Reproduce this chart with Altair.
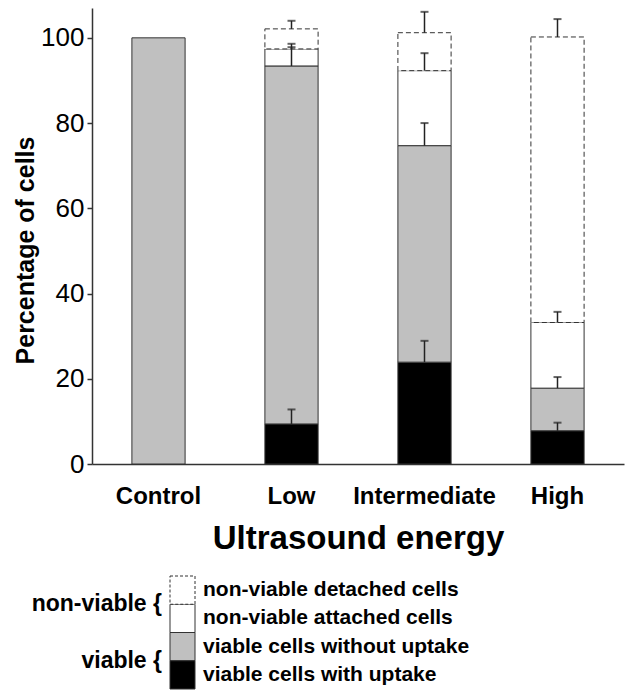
import altair as alt
import pandas as pd

FONT = "Liberation Sans"

categories = ["Control", "Low", "Intermediate", "High"]
segments = ["viable cells with uptake", "viable cells without uptake",
            "non-viable attached cells", "non-viable detached cells"]
seg_colors = ["#000000", "#c0c0c0", "#ffffff", "#ffffff"]

# cumulative top of each stacked segment, and top of its error bar
uptake_top = [0, 9.4, 23.9, 7.8]
uptake_err = [None, 12.8, 28.9, 9.7]
without_top = [100, 93.4, 74.7, 17.8]
without_err = [None, 97.8, 80.0, 20.4]
attached_top = [100, 97.4, 92.3, 33.2]
attached_err = [None, 98.6, 96.4, 35.7]
detached_top = [100, 102.1, 101.2, 100.2]
detached_err = [None, 104.0, 106.1, 104.4]

y_ticks = [0, 20, 40, 60, 80, 100]

legend_order = ["non-viable detached cells", "non-viable attached cells",
                "viable cells without uptake", "viable cells with uptake"]
group_labels = ["non-viable {", "viable {"]
group_members = [["non-viable detached cells", "non-viable attached cells"],
                 ["viable cells without uptake", "viable cells with uptake"]]

tops = [uptake_top, without_top, attached_top, detached_top]
errs = [uptake_err, without_err, attached_err, detached_err]

bar_rows, err_rows = [], []
for i, cat in enumerate(categories):
    prev = 0
    for s, seg in enumerate(segments):
        top = tops[s][i]
        if top > prev:
            bar_rows.append({"category": cat, "segment": seg, "y0": prev, "y1": top})
            prev = top
        if errs[s][i] is not None:
            err_rows.append({"category": cat, "segment": seg, "lo": top, "hi": errs[s][i]})

bars_df = pd.DataFrame(bar_rows)
err_df = pd.DataFrame(err_rows)

xenc = alt.X("category:N", sort=categories,
             scale=alt.Scale(paddingInner=0.6, paddingOuter=0.3),
             axis=alt.Axis(labelAngle=0, ticks=False, labelFontSize=24, labelFontWeight="bold",
                           labelFont=FONT, labelColor="black", labelPadding=20,
                           domainColor="#333", domainWidth=1.5,
                           titleFontSize=33, titleFontWeight="bold", titleFont=FONT,
                           titleColor="black", titlePadding=14),
             title="Ultrasound energy")
yscale = alt.Scale(domain=[0, 107], nice=False, zero=True)
yenc = alt.Y("y0:Q", scale=yscale,
             axis=alt.Axis(values=y_ticks, grid=False, tickSize=5, labelPadding=3,
                           labelFontSize=26, labelFont=FONT, labelColor="black",
                           domainColor="#333", domainWidth=1.5, tickColor="#333", tickWidth=1.5,
                           titleFontSize=25, titleFontWeight="bold", titleFont=FONT,
                           titleColor="black", titlePadding=2, titleY=242),
             title="Percentage of cells")
fill = alt.Fill("segment:N", scale=alt.Scale(domain=segments, range=seg_colors), legend=None)

solid = alt.Chart(bars_df).transform_filter(
    alt.datum.segment != "non-viable detached cells"
).mark_bar(stroke="#333", strokeWidth=1).encode(x=xenc, y=yenc, y2="y1:Q", fill=fill)

dashed = alt.Chart(bars_df).transform_filter(
    alt.datum.segment == "non-viable detached cells"
).mark_bar(fill="white", stroke="#333", strokeWidth=1, strokeDash=[5, 3]).encode(
    x=alt.X("category:N", sort=categories), y="y0:Q", y2="y1:Q")

err_rule = alt.Chart(err_df).mark_rule(color="#222", strokeWidth=1.5).encode(
    x=alt.X("category:N", sort=categories), y="lo:Q", y2="hi:Q")
err_cap = alt.Chart(err_df).mark_tick(color="#222", thickness=2, size=8).encode(
    x=alt.X("category:N", sort=categories), y="hi:Q")

main = alt.layer(solid, dashed, err_rule, err_cap).properties(width=532, height=456)

# legend block
leg_df = pd.DataFrame({"segment": legend_order, "row": list(range(len(legend_order)))})
leg_df["row1"] = leg_df["row"] + 1
leg_df["mid"] = leg_df["row"] + 0.5
grp_df = pd.DataFrame({
    "label": group_labels,
    "mid": [(legend_order.index(m[0]) + legend_order.index(m[-1]) + 1) / 2 for m in group_members],
})

lyscale = alt.Scale(domain=[0, 4], reverse=True, nice=False, zero=False)
sw_solid = alt.Chart(leg_df).transform_filter(
    alt.datum.segment != "non-viable detached cells"
).mark_rect(stroke="#333", strokeWidth=1).encode(
    x=alt.value(78), x2=alt.value(103),
    y=alt.Y("row:Q", scale=lyscale, axis=None), y2="row1:Q", fill=fill)
sw_dash = alt.Chart(leg_df).transform_filter(
    alt.datum.segment == "non-viable detached cells"
).mark_rect(fill="white", stroke="#333", strokeWidth=1, strokeDash=[3, 2]).encode(
    x=alt.value(78), x2=alt.value(103),
    y=alt.Y("row:Q", scale=lyscale, axis=None), y2="row1:Q")
sw_text = alt.Chart(leg_df).mark_text(align="left", baseline="middle", fontSize=21,
                                      fontWeight="bold", font=FONT, color="black").encode(
    x=alt.value(111), y=alt.Y("mid:Q", scale=lyscale, axis=None), text="segment:N")
grp_text = alt.Chart(grp_df).mark_text(align="right", baseline="middle", fontSize=23,
                                       fontWeight="bold", font=FONT, color="black").encode(
    x=alt.value(70), y=alt.Y("mid:Q", scale=lyscale, axis=None), text="label:N")

legend = alt.layer(sw_solid, sw_dash, sw_text, grp_text).properties(width=532, height=113)

chart = alt.vconcat(main, legend, spacing=20).properties(
    padding={"left": 5, "top": 0, "right": 5, "bottom": 5}
).configure_view(stroke=None)

chart.save("out.html", embed_options={"renderer": "svg", "actions": False})
